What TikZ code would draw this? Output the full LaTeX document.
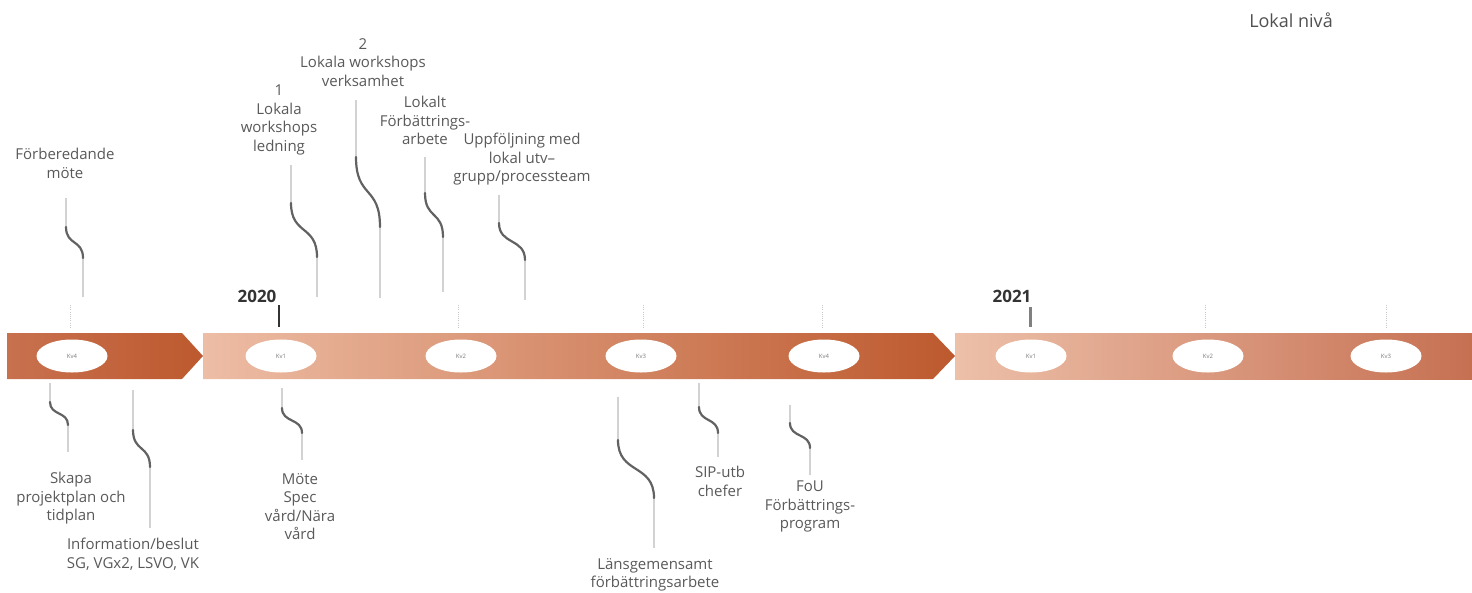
\documentclass[tikz,border=0pt]{standalone}
\usepackage{fontspec}
\setmainfont{Open Sans}
\usetikzlibrary{shapes.geometric,calc}
\definecolor{txtgray}{HTML}{595959}
\definecolor{yeargray}{HTML}{333333}
\definecolor{linelight}{HTML}{D2D2D2}
\definecolor{curvedark}{HTML}{626262}
\definecolor{dotgray}{HTML}{C8C8C8}
\definecolor{rustdark}{HTML}{BD592E}
\definecolor{rustmid}{HTML}{C8714F}
\definecolor{peach}{HTML}{EDBDA5}
\definecolor{peachb}{HTML}{EDC0A9}
\definecolor{rustend}{HTML}{C67052}
\newcommand\mycallout[5]{%
  \coordinate (#1a) at (#2); \coordinate (#1b) at (#3);
  \coordinate (#1c) at (#4); \coordinate (#1d) at (#5);
  \draw[cline] (#1a) -- (#1b);
  \draw[cline] (#1c) -- (#1d);
  \draw[ccurve] (#1b) .. controls ($(#1b)!0.6!(#1b |- #1c)$) and ($(#1c)!0.6!(#1c |- #1b)$) .. (#1c);
}
\begin{document}
\begin{tikzpicture}[x=1pt,y=-1pt,
  lbl/.style={font=\fontsize{15}{18.5}\selectfont, text=txtgray, align=center, inner sep=0pt, anchor=north},
  year/.style={font=\fontsize{17}{20}\selectfont\bfseries, text=yeargray, inner sep=0pt},
  oval/.style={ellipse, fill=white, minimum width=71pt, minimum height=33pt, inner sep=0pt,
    font=\fontsize{6}{7}\selectfont, text=txtgray!80},
  cline/.style={draw=linelight, line width=1.3pt},
  ccurve/.style={draw=curvedark, line width=2.2pt, line cap=round},
  tickdot/.style={draw=dotgray, line width=0.8pt, dash pattern=on 1pt off 1.2pt}]
\useasboundingbox (0,0) rectangle (1472,592);
% band
\shade[left color=rustmid, right color=rustdark]
  (7,333) -- (182,333) -- (203,356) -- (182,379) -- (7,379) -- cycle;
\shade[left color=peach, right color=rustdark]
  (203,333) -- (933,333) -- (955,356) -- (933,379) -- (203,379) -- cycle;
\shade[left color=peachb, right color=rustend]
  (955,333) rectangle (1472,379);
% quarters
\node[oval] (q1) at (72,356) {Kv4};
\node[oval] (q2) at (281,356) {Kv1};
\node[oval] (q3) at (461,356) {Kv2};
\node[oval] (q4) at (641,356) {Kv3};
\node[oval] (q5) at (824,356) {Kv4};
\node[oval] (q6) at (1031,356) {Kv1};
\node[oval] (q7) at (1208,356) {Kv2};
\node[oval] (q8) at (1386,356) {Kv3};
% ticks
\draw[tickdot] (70,305) -- (70,328);
\draw[tickdot] (458,305) -- (458,328);
\draw[tickdot] (643,305) -- (643,328);
\draw[tickdot] (822,305) -- (822,328);
\draw[tickdot] (1205,305) -- (1205,328);
\draw[tickdot] (1386,305) -- (1386,328);
\draw[draw=yeargray, line width=2pt] (279,305) -- (279,327);
\draw[draw=gray, line width=3pt] (1030,307) -- (1030,327);
\node[year] (y20) at (257,296) {2020};
\node[year] (y21) at (1012,296) {2021};
\node[font=\fontsize{18}{20}\selectfont, text=txtgray!90!black, inner sep=0pt] (lvl) at (1291,20) {Lokal nivå};
% upper labels
\node[lbl] (t1) at (65,148) {Förberedande\\möte};
\node[lbl] (t2) at (279,85) {1\\Lokala\\workshops\\ledning};
\node[lbl] (t3) at (363,38) {2\\Lokala workshops\\verksamhet};
\node[lbl] (t4) at (425,96) {Lokalt\\Förbättrings-\\arbete};
\node[lbl] (t5) at (522,133) {Uppföljning med\\lokal utv–\\grupp/processteam};
% lower labels
\node[lbl] (b1) at (71,472) {Skapa\\projektplan och\\tidplan};
\node[lbl] (b2) at (133,538) {Information/beslut\\SG, VGx2, LSVO, VK};
\node[lbl] (b3) at (300,473) {Möte\\Spec\\vård/Nära\\vård};
\node[lbl] (b4) at (655,558) {Länsgemensamt\\förbättringsarbete};
\node[lbl] (b5) at (720,466) {SIP-utb\\chefer};
\node[lbl] (b6) at (810,481) {FoU\\Förbättrings-\\program};
% callouts
\mycallout{u1}{66,198}{66,227}{83,258}{83,297}
\mycallout{u2}{291,165}{291,203}{317,257}{317,297}
\mycallout{u3}{356,100}{356,157}{380,227}{380,298}
\mycallout{u4}{425,157}{425,193}{443,237}{443,292}
\mycallout{u5}{499,195}{499,223}{525,260}{525,300}
\mycallout{l1}{50,383}{50,402}{68,425}{68,452}
\mycallout{l2}{133,390}{133,430}{150,467}{150,528}
\mycallout{l3}{282,388}{282,408}{302,433}{302,460}
\mycallout{l4}{618,397}{618,440}{654,498}{654,548}
\mycallout{l5}{699,383}{699,407}{718,433}{718,457}
\mycallout{l6}{790,405}{790,423}{810,448}{810,475}
\end{tikzpicture}
\end{document}
